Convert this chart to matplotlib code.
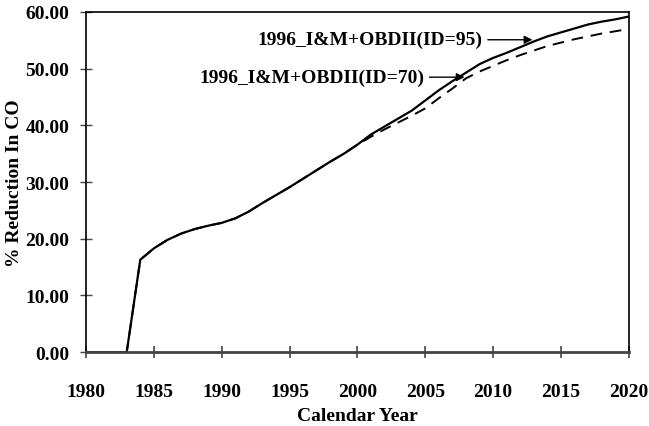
import matplotlib
matplotlib.use("Agg")
import matplotlib.pyplot as plt

plt.rcParams['font.family'] = 'Liberation Serif'
plt.rcParams['font.weight'] = 'bold'

anos = list(range(1980, 2021))
id95 = [0, 0, 0, 0, 16.3, 18.3, 19.8, 20.9, 21.7, 22.3, 22.8, 23.6, 24.8, 26.3,
        27.7, 29.1, 30.6, 32.1, 33.6, 35.0, 36.6, 38.4, 39.8, 41.2, 42.6, 44.4,
        46.2, 47.8, 49.3, 50.8, 51.9, 52.8, 53.8, 54.8, 55.7, 56.4, 57.1, 57.8,
        58.3, 58.7, 59.2]
id70 = [0, 0, 0, 0, 16.3, 18.3, 19.8, 20.9, 21.7, 22.3, 22.8, 23.6, 24.8, 26.3,
        27.7, 29.1, 30.6, 32.1, 33.6, 35.0, 36.6, 38.0, 39.3, 40.5, 41.7, 43.0,
        44.8, 46.5, 48.3, 49.5, 50.5, 51.5, 52.4, 53.2, 54.0, 54.6, 55.2, 55.7,
        56.2, 56.6, 57.0]

fig = plt.figure(figsize=(6.49, 4.27), dpi=100)
ax = fig.add_axes([0.1325, 0.173, 0.8365, 0.7966])

ax.plot(anos, id95, color='black', lw=1.6)
ax.plot(anos, id70, color='black', lw=1.4, ls=(0, (6, 4)))

ax.set_xlim(1980, 2020)
ax.set_ylim(0, 60)
ax.set_xticks(range(1980, 2021, 5))
ax.set_yticks(range(0, 61, 10))
ax.set_yticklabels([f'{v:.2f}' for v in range(0, 61, 10)])
ax.tick_params(axis='x', direction='inout', length=8, width=1.2, color='#444444', labelsize=14, pad=18)
ax.tick_params(axis='y', direction='inout', length=8, width=1, color='#444444', labelsize=14, pad=8)
ax.spines['bottom'].set_color('#444444')
ax.spines['bottom'].set_linewidth(2)
for s in ['left', 'top', 'right']:
    ax.spines[s].set_linewidth(1.2)

ax.set_xlabel('Calendar Year', fontsize=14, fontweight='bold', labelpad=5)
ax.set_ylabel('% Reduction In CO', fontsize=14, fontweight='bold', labelpad=2)

ax.annotate('1996_I&M+OBDII(ID=95)', xy=(2013.1, 55.1), xytext=(2009.2, 55.1),
            ha='right', va='center', fontsize=14, fontweight='bold',
            arrowprops=dict(arrowstyle='-|>', color='black', lw=1, mutation_scale=12))
ax.annotate('1996_I&M+OBDII(ID=70)', xy=(2008.1, 48.5), xytext=(2004.9, 48.5),
            ha='right', va='center', fontsize=14, fontweight='bold',
            arrowprops=dict(arrowstyle='-|>', color='black', lw=1, mutation_scale=12))

fig.savefig('out.png', dpi=100)
